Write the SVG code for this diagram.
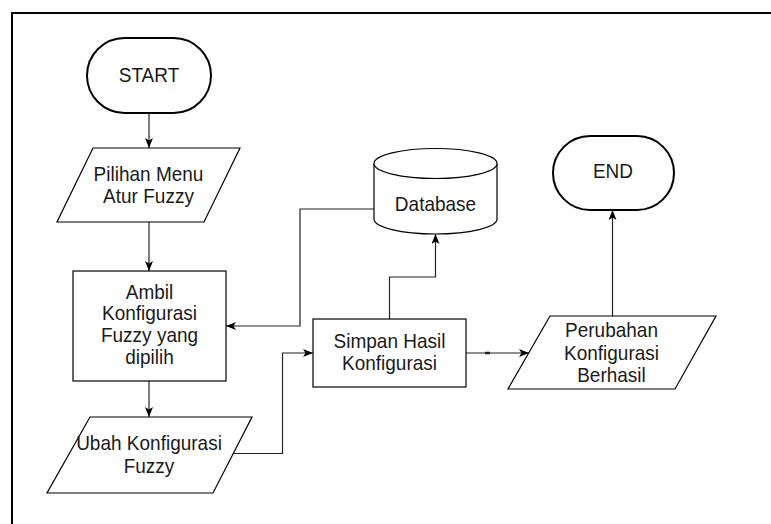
<svg xmlns="http://www.w3.org/2000/svg" width="771" height="524" viewBox="0 0 771 524">
  <defs>
    <marker id="arrow" viewBox="0 0 10 8" refX="10" refY="4" markerWidth="10" markerHeight="8" markerUnits="userSpaceOnUse" orient="auto">
      <path d="M0,0 L10,4 L0,8 L2.5,4 Z" fill="#000"/>
    </marker>
  </defs>
  <style>
    .shape { fill: #fff; stroke: #000; stroke-width: 1.2; }
    .term { fill: #fff; stroke: #000; stroke-width: 2; }
    .edge { fill: none; stroke: #222; stroke-width: 1.2; }
    .label { font-family: "Liberation Sans", Arial, sans-serif; font-size: 19px; fill: #1a1a1a; text-anchor: middle; }
  </style>

  <rect x="0" y="0" width="771" height="524" fill="#fff"/>
  <!-- outer frame -->
  <path d="M12,524 V13 H771" fill="none" stroke="#000" stroke-width="2"/>

  <g id="connectors">
    <path class="edge" d="M149,113 V148" marker-end="url(#arrow)"/>
    <path class="edge" d="M149,222 V271" marker-end="url(#arrow)"/>
    <path class="edge" d="M149,381 V417" marker-end="url(#arrow)"/>
    <path class="edge" d="M233.5,453.5 H282.5 V353 H313" marker-end="url(#arrow)"/>
    <path class="edge" d="M389.5,319 V277 H435.5 V234" marker-end="url(#arrow)"/>
    <path class="edge" d="M374,209 H300 V326 H226" marker-end="url(#arrow)"/>
    <path class="edge" d="M466,353 H529" marker-end="url(#arrow)"/>
    <path d="M485,353 H490" stroke="#222" stroke-width="2.5"/>
    <path class="edge" d="M612.5,316 V210" marker-end="url(#arrow)"/>
  </g>

  <!-- labels are set slightly tall: translate to the baseline, then stretch vertically -->
  <g id="start">
    <rect class="term" x="87" y="38" width="124" height="75" rx="37.5" ry="37.5"/>
    <text class="label" transform="translate(149,82.3) scale(1,1.1)">START</text>
  </g>

  <g id="pilihan-menu">
    <polygon class="shape" points="93,148 240,148 204,222 57,222"/>
    <text class="label" transform="translate(148.5,180.5) scale(1,1.1)">Pilihan Menu</text>
    <text class="label" transform="translate(148.5,203.2) scale(1,1.1)">Atur Fuzzy</text>
  </g>

  <g id="ambil-konfigurasi">
    <rect class="shape" x="73" y="271" width="153" height="110"/>
    <text class="label" transform="translate(149.5,298.5) scale(1,1.1)">Ambil</text>
    <text class="label" transform="translate(149.5,320.2) scale(1,1.1)">Konfigurasi</text>
    <text class="label" transform="translate(149.5,341.9) scale(1,1.1)">Fuzzy yang</text>
    <text class="label" transform="translate(149.5,363.6) scale(1,1.1)">dipilih</text>
  </g>

  <g id="ubah-konfigurasi">
    <polygon class="shape" points="90,417 252,417 213,493 47,493"/>
    <text class="label" transform="translate(149,450) scale(1,1.1)">Ubah Konfigurasi</text>
    <text class="label" transform="translate(149,472.7) scale(1,1.1)">Fuzzy</text>
  </g>

  <g id="database">
    <path class="shape" d="M374,163.5 V219 A61.5,15 0 0 0 497,219 V163.5"/>
    <ellipse class="shape" cx="435.5" cy="163.5" rx="61.5" ry="15"/>
    <text class="label" transform="translate(435.5,210.7) scale(1,1.1)">Database</text>
  </g>

  <g id="simpan-hasil">
    <rect class="shape" x="313" y="319" width="153" height="68"/>
    <text class="label" transform="translate(389.5,348.4) scale(1,1.1)">Simpan Hasil</text>
    <text class="label" transform="translate(389.5,370.1) scale(1,1.1)">Konfigurasi</text>
  </g>

  <g id="perubahan-konfigurasi">
    <polygon class="shape" points="550,316 716,316 675,389 508,389"/>
    <text class="label" transform="translate(611.5,337.4) scale(1,1.1)">Perubahan</text>
    <text class="label" transform="translate(611.5,360) scale(1,1.1)">Konfigurasi</text>
    <text class="label" transform="translate(611.5,382.4) scale(1,1.1)">Berhasil</text>
  </g>

  <g id="end">
    <rect class="term" x="553" y="136" width="121" height="74" rx="37" ry="37"/>
    <text class="label" transform="translate(613,178.3) scale(1,1.1)">END</text>
  </g>
</svg>
